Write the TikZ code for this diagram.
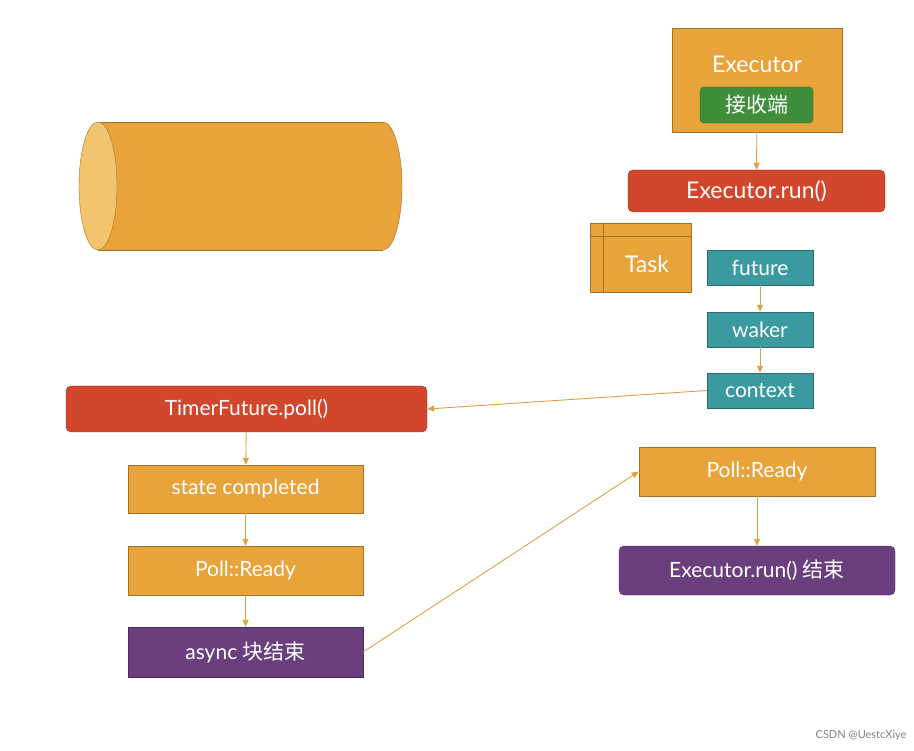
\documentclass[tikz,border=0pt]{standalone}
\usepackage{fontspec}
\setmainfont{Lato}
\newfontfamily\cjk{Noto Sans CJK SC}
\usetikzlibrary{arrows.meta,shapes.geometric}
\definecolor{org}{HTML}{E8A33A}
\definecolor{orgl}{HTML}{F2C46E}
\definecolor{rd}{HTML}{D2472C}
\definecolor{tl}{HTML}{3A9AA0}
\definecolor{pp}{HTML}{6B3F7E}
\definecolor{gr}{HTML}{3E8E3A}
\definecolor{ln}{HTML}{E0A040}
\tikzset{
  box/.style={draw=#1!70!black, fill=#1, text=white, font=\fontsize{21}{24}\selectfont, inner sep=0pt},
  arr/.style={draw=ln, line width=0.9pt, -{Triangle[length=7pt,width=6pt]}},
}
\begin{document}
\begin{tikzpicture}[x=1pt,y=-1pt]
\useasboundingbox (0,0) rectangle (914,751);
% cylinder
\node[draw=org!70!black, fill=org, ellipse, minimum width=38, minimum height=128, inner sep=0pt] (cylback) at (383,186) {};
\fill[org] (98,122) rectangle (383,250);
\draw[org!70!black] (98,122) -- (383,122) (98,250) -- (383,250);
\node[draw=org!70!black, fill=orgl, ellipse, minimum width=38, minimum height=128, inner sep=0pt] (cylface) at (98,186) {};
% Executor
\node[box=org, minimum width=170, minimum height=104] (exec) at (757,80) {};
\node[text=white, font=\fontsize{23}{26}\selectfont] (exectxt) at (757,64) {Executor};
\node[box=gr, rounded corners=4pt, minimum width=113, minimum height=36] (recv) at (756.5,105) {\cjk 接收端};
\node[box=rd, rounded corners=5pt, minimum width=257, minimum height=42, font=\fontsize{23}{26}\selectfont] (run) at (756.5,191) {Executor.run()};
% Task
\node[box=org, minimum width=101, minimum height=69] (task) at (640.5,257.5) {};
\draw[org!70!black] (603,223) -- (603,292) (590,236) -- (691,236);
\node[text=white, font=\fontsize{23}{26}\selectfont] (tasktxt) at (647,264) {Task};
\node[box=tl, minimum width=106, minimum height=35] (future) at (760,267.5) {future};
\node[box=tl, minimum width=106, minimum height=35] (waker) at (760,329.5) {waker};
\node[box=tl, minimum width=106, minimum height=35] (context) at (760,390.5) {context};
% left column
\node[box=rd, rounded corners=5pt, minimum width=361, minimum height=46] (tpoll) at (246.5,409) {TimerFuture.poll()};
\node[box=org, minimum width=235, minimum height=48] (state) at (245.5,489) {state completed};
\node[box=org, minimum width=235, minimum height=49] (ready1) at (245.5,570.5) {Poll::Ready};
\node[box=pp, minimum width=235, minimum height=50] (async) at (245.5,652) {async {\cjk 块结束}};
% right column
\node[box=org, minimum width=236, minimum height=49] (ready2) at (757,471.5) {Poll::Ready};
\node[box=pp, rounded corners=5pt, minimum width=276, minimum height=49] (runend) at (757,570.5) {Executor.run() {\cjk 结束}};
% arrows
\draw[arr] (exec) -- (run);
\draw[arr] (future) -- (waker);
\draw[arr] (waker) -- (context);
\draw[arr] (context.west) -- (tpoll.east);
\draw[arr] (tpoll) -- (state);
\draw[arr] (state) -- (ready1);
\draw[arr] (ready1) -- (async);
\draw[arr] (async.east) -- (ready2.west);
\draw[arr] (ready2) -- (runend);
\node[text=gray, font=\fontsize{11}{13}\selectfont, anchor=east] (wm) at (910,735) {CSDN @UestcXiye};
\end{tikzpicture}
\end{document}
